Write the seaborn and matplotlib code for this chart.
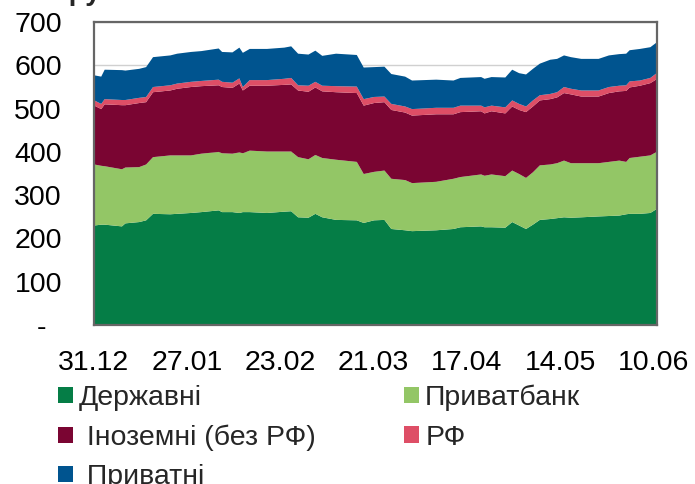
import pandas as pd
import seaborn as sns
import matplotlib.pyplot as plt
import matplotlib.dates as mdates
from matplotlib.patches import Patch

# дані, млрд грн
dates = ['2019-12-31', '2020-01-02', '2020-01-03', '2020-01-08', '2020-01-09', '2020-01-13',
         '2020-01-15', '2020-01-17', '2020-01-22', '2020-01-24', '2020-01-28', '2020-01-31',
         '2020-02-05', '2020-02-06', '2020-02-09', '2020-02-11', '2020-02-12', '2020-02-14',
         '2020-02-19', '2020-02-24', '2020-02-26', '2020-02-28', '2020-03-02', '2020-03-04',
         '2020-03-06', '2020-03-10', '2020-03-16', '2020-03-18', '2020-03-21', '2020-03-24',
         '2020-03-26', '2020-03-30', '2020-04-01', '2020-04-08', '2020-04-13', '2020-04-15',
         '2020-04-21', '2020-04-22', '2020-04-24', '2020-04-28', '2020-04-30', '2020-05-02',
         '2020-05-04', '2020-05-06', '2020-05-08', '2020-05-11', '2020-05-13', '2020-05-15',
         '2020-05-17', '2020-05-20', '2020-05-25', '2020-05-28', '2020-05-31', '2020-06-02',
         '2020-06-03', '2020-06-06', '2020-06-09', '2020-06-11']
derzhavni = [231, 233, 233, 229, 236, 239, 243, 258, 257, 258, 260, 262, 266, 262, 262, 260,
             262, 262, 260, 263, 264, 250, 249, 258, 250, 244, 243, 237, 243, 244, 223, 220,
             218, 220, 223, 227, 229, 227, 227, 226, 239, 231, 223, 233, 244, 246, 248, 250,
             249, 250, 252, 253, 254, 257, 258, 258, 260, 270]
pryvatbank = [141, 136, 135, 132, 129, 127, 129, 131, 136, 135, 133, 135, 135, 136, 135, 140,
              136, 142, 142, 139, 138, 139, 135, 136, 137, 139, 135, 113, 112, 114, 116, 116,
              111, 112, 116, 116, 120, 119, 122, 119, 119, 119, 118, 121, 126, 126, 127, 131,
              126, 125, 123, 125, 127, 121, 129, 132, 133, 132]
inozemni = [136, 131, 143, 148, 144, 148, 144, 150, 150, 154, 158, 156, 154, 153, 152, 159,
            145, 150, 152, 154, 155, 154, 156, 156, 154, 156, 159, 158, 159, 158, 159, 156,
            156, 156, 149, 150, 146, 144, 146, 145, 148, 148, 152, 152, 150, 151, 152, 156,
            159, 154, 154, 159, 160, 164, 163, 164, 167, 168]
rf = [12, 12, 12, 12, 12, 12, 12, 12, 12, 12, 12, 12, 13, 12, 12, 12,
      8, 13, 13, 14, 15, 12, 14, 13, 13, 14, 15, 15, 14, 13, 14, 14,
      15, 15, 15, 15, 13, 14, 13, 14, 14, 14, 13, 14, 12, 12, 12, 14,
      13, 14, 14, 14, 13, 13, 14, 12, 12, 14]
pryvatni = [58, 63, 68, 69, 68, 67, 69, 69, 69, 69, 69, 69, 72, 69, 70, 71,
            79, 72, 72, 72, 73, 73, 72, 72, 69, 75, 73, 73, 69, 69, 69, 69,
            66, 65, 63, 64, 66, 66, 66, 69, 71, 71, 74, 73, 73, 79, 77, 73,
            73, 73, 73, 73, 73, 73, 72, 73, 71, 71]

labels = ['Державні', 'Приватбанк', ' Іноземні (без РФ)', 'РФ', ' Приватні']
colors = ['#057D46', '#93C666', '#7A0532', '#DE4E66', '#00548F']
y_ticks = [0, 100, 200, 300, 400, 500, 600, 700]
y_labels = ['-  ', '100', '200', '300', '400', '500', '600', '700']

df = pd.DataFrame({'date': pd.to_datetime(dates), 'Державні': derzhavni,
                   'Приватбанк': pryvatbank, 'Іноземні': inozemni, 'РФ': rf,
                   'Приватні': pryvatni})

sns.set_theme(style='white')
plt.rcParams['font.family'] = ['Liberation Sans', 'DejaVu Sans']

fig = plt.figure(figsize=(6.95, 4.84), dpi=100)
ax = fig.add_axes([0.135, 0.3285, 0.81, 0.626])

ax.stackplot(df['date'], df['Державні'], df['Приватбанк'], df['Іноземні'], df['РФ'],
             df['Приватні'], colors=colors, linewidth=0)

ax.set_ylim(0, 700)
ax.set_xlim(pd.Timestamp('2019-12-31'), pd.Timestamp('2020-06-11'))
ax.set_yticks(y_ticks)
ax.set_yticklabels(y_labels)
ax.set_xticks(pd.date_range('2019-12-31', periods=7, freq='27D'))
ax.xaxis.set_major_formatter(mdates.DateFormatter('%d.%m'))
ax.yaxis.grid(True, color='#d0d0d0', lw=1)
ax.set_axisbelow(True)

for s in ax.spines.values():
    s.set_color('#666666')
    s.set_linewidth(1.6)
ax.tick_params(axis='both', direction='in', length=6, width=1.6, color='#666666',
               labelsize=20.5, labelcolor='black')
ax.tick_params(axis='y', pad=23)
ax.tick_params(axis='x', pad=18)

# назва графіка, що обрізана зверху
fig.text(0.077, 1.0, 'Групи банків', fontsize=20, fontweight='bold', va='baseline')

# легенда у два стовпчики, порядок як в оригіналі
order = [0, 2, 4, 1, 3]
handles = [Patch(facecolor=colors[i], edgecolor='none') for i in order]
fig.legend(handles, [labels[i] for i in order], ncol=2, loc='upper left',
           bbox_to_anchor=(0.0835, 0.2045), frameon=False, fontsize=20.5,
           handlelength=0.53, handleheight=0.5, handletextpad=0.21,
           labelspacing=0.46, columnspacing=3.1, borderpad=0, borderaxespad=0)

plt.savefig('out.png', dpi=100)
